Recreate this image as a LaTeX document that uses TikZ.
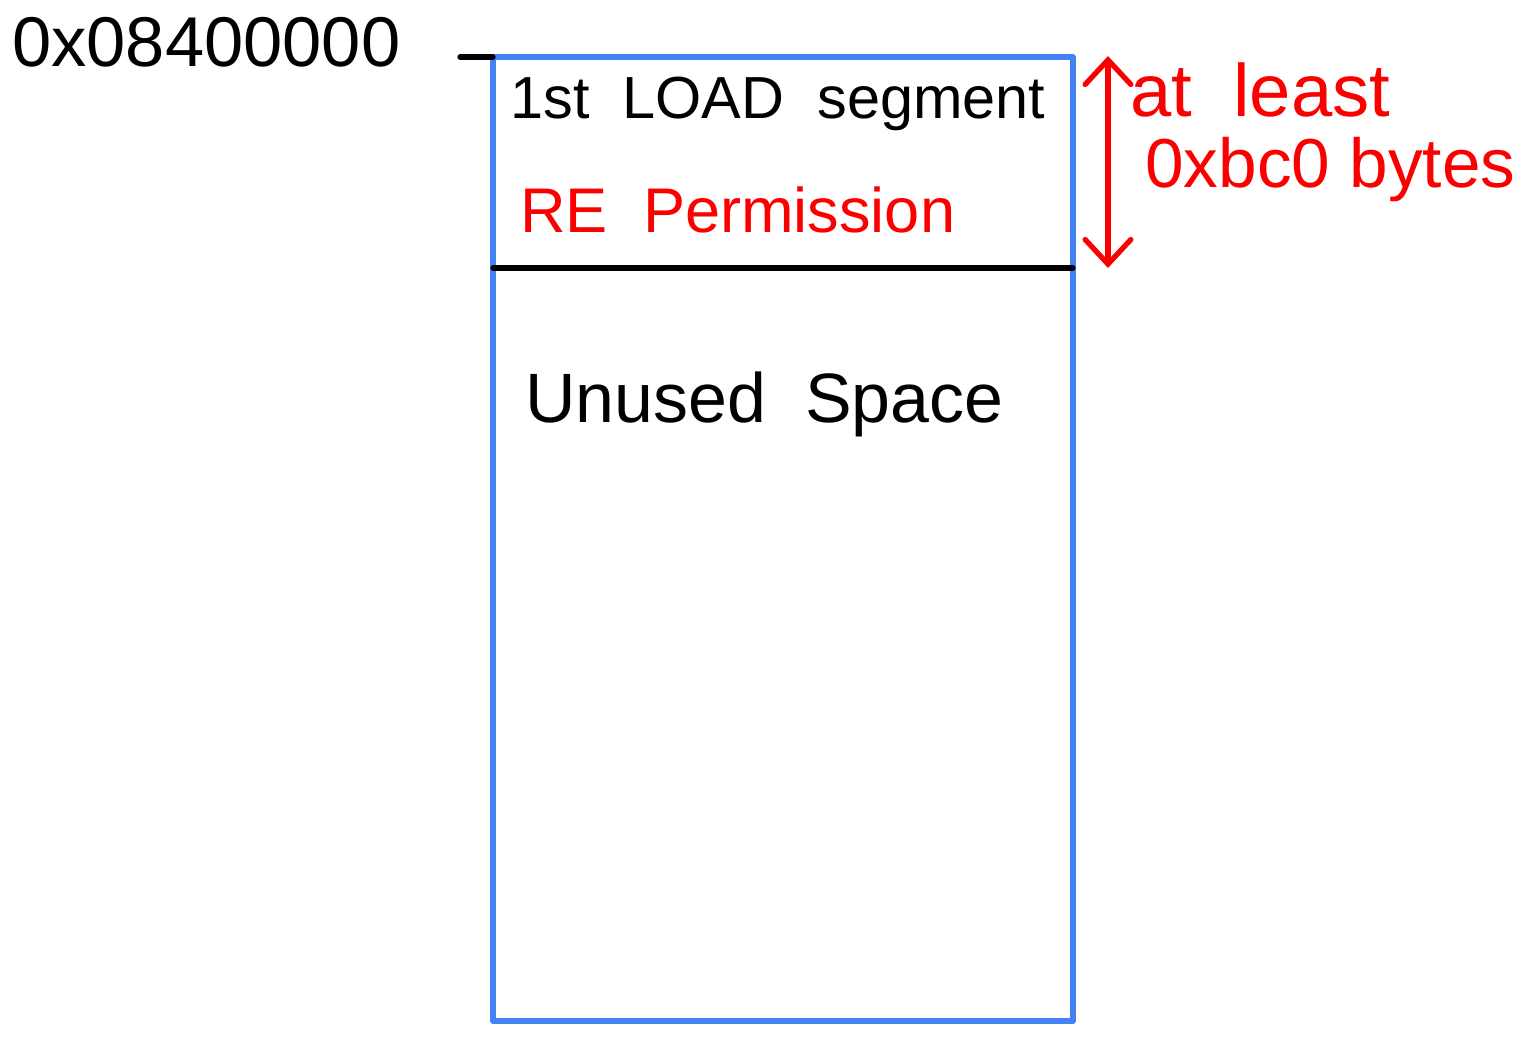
\documentclass[tikz,border=0pt]{standalone}
\usepackage{fontspec}
\setmainfont{Liberation Sans}
\usepackage{graphicx}
\usetikzlibrary{arrows.meta}
\definecolor{boxblue}{RGB}{66,130,245}
\definecolor{hred}{RGB}{250,0,0}
\tikzset{
  px/.style={x=0.02cm,y=-0.02cm},
  hand/.style={line width=3pt,line cap=round,line join=round},
  lbl/.style={inner sep=0pt,anchor=west},
  handbarb/.tip={Straight Barb[length=14pt,width=26pt,line cap=round]},
}
\newcommand{\fitw}[2]{\resizebox{#1}{!}{#2}}
\begin{document}
\begin{tikzpicture}[px]
\useasboundingbox (0,0) rectangle (1527,1050);
% box
\coordinate (tl) at (493,57);
\coordinate (br) at (1073,1021);
\coordinate (ml) at (493,268);
\coordinate (mr) at (1073,268);
\coordinate (tickl) at (460,57);
\draw[hand,boxblue] (tl) rectangle (br);
\draw[hand,black] (ml) -- (mr);
\draw[hand,black] (tickl) -- (tl);
% arrow
\coordinate (at) at (1108,56);
\coordinate (ab) at (1108,268);
\draw[hand,hred,handbarb-handbarb] (at) -- (ab);
% texts
\node[lbl] (addr) at (12,42) {\fitw{7.76cm}{0x08400000}};
\node[lbl] (load) at (510,104) {\fitw{10.7cm}{1st\ \ LOAD\ \ segment}};
\node[lbl,text=hred] (perm) at (520,210) {\fitw{8.7cm}{RE\ \ Permission}};
\node[lbl] (unused) at (525,404) {\fitw{9.56cm}{Unused\ \ Space}};
\node[lbl,text=hred] (atl) at (1130,90) {\fitw{5.2cm}{at\ \ least}};
\node[lbl,text=hred] (bytes) at (1145,170) {\fitw{7.4cm}{0xbc0\ bytes}};
\end{tikzpicture}
\end{document}
